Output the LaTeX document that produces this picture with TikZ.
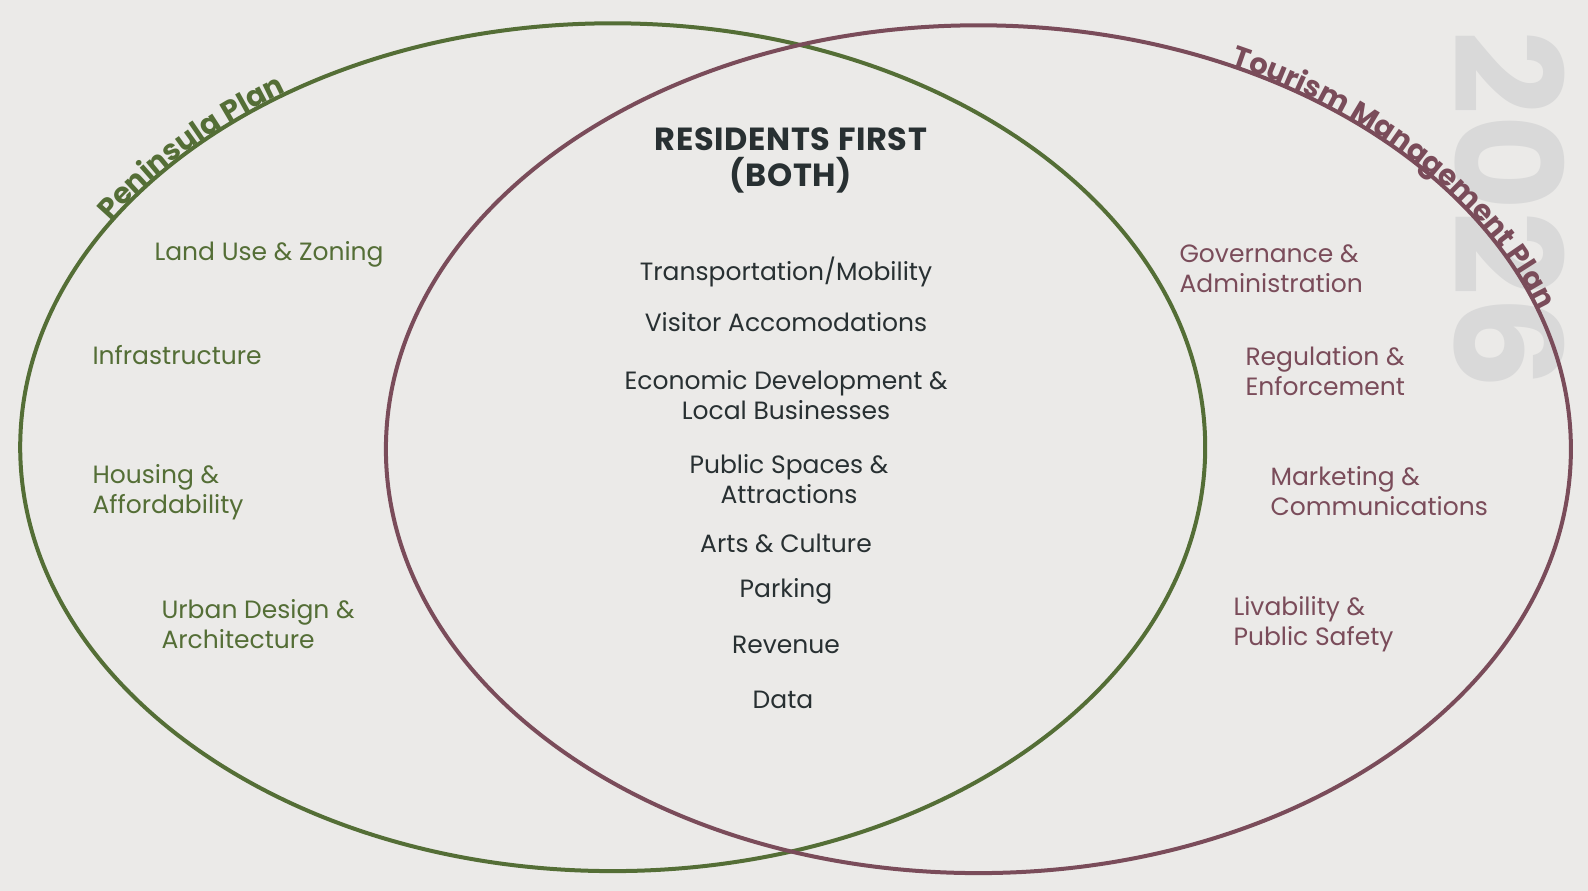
\documentclass[tikz,border=0pt]{standalone}
\usepackage{fontspec}
\setmainfont{Poppins}
\usetikzlibrary{decorations.text}

\definecolor{penigreen}{RGB}{84,110,54}
\definecolor{tourplum}{RGB}{122,76,90}
\definecolor{midtext}{RGB}{40,48,50}
\definecolor{bgpaper}{RGB}{235,234,232}
\definecolor{yeargray}{RGB}{217,217,217}

\begin{document}
\begin{tikzpicture}[x=1pt, y=-1pt,
peninsula item/.style={anchor=west, align=left, text=penigreen, font=\fontsize{25}{30}\selectfont},
tourism item/.style={anchor=west, align=left, text=tourplum, font=\fontsize{25}{30}\selectfont},
shared item/.style={align=center, text=midtext, font=\fontsize{25}{30}\selectfont}]
\fill[bgpaper] (0,0) rectangle (1588,891);
\useasboundingbox (0,0) rectangle (1588,891);
\coordinate (green centre) at (612.7,447.2);
\coordinate (plum centre) at (978.4,449.2);

% watermark year
\node[rotate=-90, text=yeargray, font=\bfseries\fontsize{148}{148}\selectfont] (year) at (1509,210) {2026};

% the two plans
\draw[penigreen, line width=4pt] (green centre) ellipse[x radius=592.5, y radius=423.9];
\draw[tourplum, line width=4pt] (plum centre) ellipse[x radius=592.5, y radius=423.9];

\path[decorate, decoration={text along path, text align=center, raise=1pt,
  text={|\bfseries\fontsize{29}{29}\selectfont\color{penigreen}|Peninsula Plan}}]
  (green centre) ++(-165:592.5 and 423.9) arc[start angle=-165, end angle=-109.5, x radius=592.5, y radius=423.9];
\path[decorate, decoration={text along path, text align=center, raise=1pt,
  text={|\bfseries\fontsize{29}{29}\selectfont\color{tourplum}|Tourism Management Plan}}]
  (plum centre) ++(-76.5:592.5 and 423.9) arc[start angle=-76.5, end angle=-3.5, x radius=592.5, y radius=423.9];

% overlap
\node[align=center, text=midtext, font=\bfseries\fontsize{32}{36}\selectfont\addfontfeature{LetterSpace=2}] (both) at (791,160.5) {RESIDENTS FIRST\\(BOTH)};
\node[shared item] (transport) at (786,272.4) {Transportation/Mobility};
\node[shared item] (visitor) at (786,322.1) {Visitor Accomodations};
\node[shared item] (economy) at (786,395.5) {Economic Development \&\\Local Businesses};
\node[shared item] (public) at (789,479.5) {Public Spaces \&\\Attractions};
\node[shared item] (arts) at (786,542.9) {Arts \& Culture};
\node[shared item] (parking) at (786,591.5) {Parking};
\node[shared item] (revenue) at (786,645.2) {Revenue};
\node[shared item] (data) at (783,699.8) {Data};

% peninsula only
\node[peninsula item] (landuse) at (151,254) {Land Use \& Zoning};
\node[peninsula item] (infra) at (89,355.5) {Infrastructure};
\node[peninsula item] (housing) at (89,492.5) {Housing \&\\Affordability};
\node[peninsula item] (urban) at (158,624.5) {Urban Design \&\\Architecture};

% tourism only
\node[tourism item] (governance) at (1176,268.4) {Governance \&\\Administration};
\node[tourism item] (regulation) at (1242,370.7) {Regulation \&\\Enforcement};
\node[tourism item] (marketing) at (1267,491.2) {Marketing \&\\Communications};
\node[tourism item] (livability) at (1230,624.5) {Livability \&\\Public Safety};
\end{tikzpicture}
\end{document}
